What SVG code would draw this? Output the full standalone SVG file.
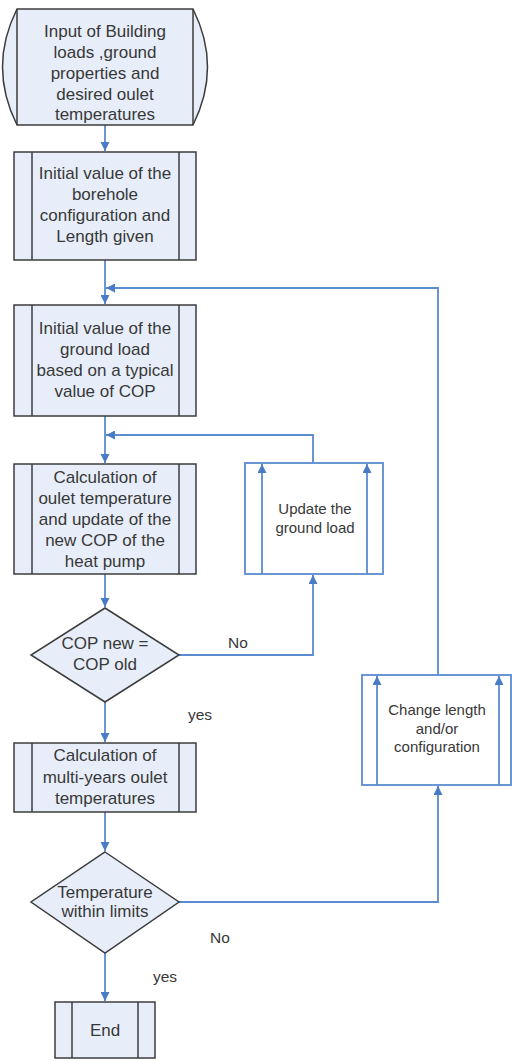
<svg xmlns="http://www.w3.org/2000/svg" width="512" height="1061" viewBox="0 0 512 1061">
<defs>
<style>
.node{fill:#e7eef9;stroke:#3c3c3c;stroke-width:1.5}
.sub{fill:none;stroke:#3c3c3c;stroke-width:1.5}
.box{fill:#ffffff;stroke:#5b8bd0;stroke-width:1.8}
.con{fill:none;stroke:#5b8bd0;stroke-width:1.8}
text{font-family:"Liberation Sans",Arial,sans-serif;font-size:17px;fill:#383838;text-anchor:middle}
.sm{font-size:15px}
.lbl{font-size:15.5px;text-anchor:start}
</style>
<marker id="ah" viewBox="0 0 10 10" refX="10" refY="5" markerWidth="9" markerHeight="9" markerUnits="userSpaceOnUse" orient="auto">
<path d="M0,0 L10,5 L0,10 Z" fill="#4a7cc6"/>
</marker>
</defs>
<g id="connectors">
<line class="con" x1="105" y1="125" x2="105" y2="151" marker-end="url(#ah)"/>
<line class="con" x1="105" y1="260" x2="105" y2="304" marker-end="url(#ah)"/>
<line class="con" x1="105" y1="416" x2="105" y2="463" marker-end="url(#ah)"/>
<line class="con" x1="105" y1="574" x2="105" y2="607" marker-end="url(#ah)"/>
<line class="con" x1="105" y1="702" x2="105" y2="742" marker-end="url(#ah)"/>
<line class="con" x1="105" y1="812" x2="105" y2="851" marker-end="url(#ah)"/>
<line class="con" x1="105" y1="953" x2="105" y2="1001" marker-end="url(#ah)"/>
<polyline class="con" points="179,655 313,655 313,575" marker-end="url(#ah)"/>
<polyline class="con" points="313,463 313,435 106,435" marker-end="url(#ah)"/>
<polyline class="con" points="179,902 438,902 438,786" marker-end="url(#ah)"/>
<polyline class="con" points="438,675 438,288 106,288" marker-end="url(#ah)"/>
</g>
<g id="n1">
<path class="node" d="M17,9 L193,9 Q222,67 193,125 L17,125 Q-12,67 17,9 Z"/>
<line class="sub" x1="17" y1="9" x2="17" y2="125"/>
<line class="sub" x1="193" y1="9" x2="193" y2="125"/>
<text x="105" y="37">Input of Building</text>
<text x="105" y="58">loads ,ground</text>
<text x="105" y="79">properties and</text>
<text x="105" y="100">desired oulet</text>
<text x="105" y="120">temperatures</text>
</g>
<g id="n2">
<rect class="node" x="14" y="152" width="182" height="108"/>
<line class="sub" x1="32" y1="152" x2="32" y2="260"/>
<line class="sub" x1="179" y1="152" x2="179" y2="260"/>
<text x="105" y="179">Initial value of the</text>
<text x="105" y="200">borehole</text>
<text x="105" y="221">configuration and</text>
<text x="105" y="242">Length given</text>
</g>
<g id="n3">
<rect class="node" x="14" y="305" width="182" height="111"/>
<line class="sub" x1="32" y1="305" x2="32" y2="416"/>
<line class="sub" x1="179" y1="305" x2="179" y2="416"/>
<text x="105" y="334">Initial value of the</text>
<text x="105" y="355">ground load</text>
<text x="105" y="376">based on a typical</text>
<text x="105" y="397">value of COP</text>
</g>
<g id="n4">
<rect class="node" x="14" y="464" width="182" height="110"/>
<line class="sub" x1="32" y1="464" x2="32" y2="574"/>
<line class="sub" x1="179" y1="464" x2="179" y2="574"/>
<text x="105" y="483">Calculation of</text>
<text x="105" y="504">oulet temperature</text>
<text x="105" y="525">and update of the</text>
<text x="105" y="546">new COP of the</text>
<text x="105" y="567">heat pump</text>
</g>
<g id="n5">
<polygon class="node" points="105,608 179,655 105,702 31,655"/>
<text x="105" y="649">COP new =</text>
<text x="105" y="670">COP old</text>
</g>
<g id="n6">
<rect class="node" x="14" y="743" width="182" height="69"/>
<line class="sub" x1="32" y1="743" x2="32" y2="812"/>
<line class="sub" x1="179" y1="743" x2="179" y2="812"/>
<text x="105" y="761">Calculation of</text>
<text x="105" y="783">multi-years oulet</text>
<text x="105" y="804">temperatures</text>
</g>
<g id="n7">
<polygon class="node" points="105,852 179,902 105,953 31,902"/>
<text x="105" y="898">Temperature</text>
<text x="105" y="917">within limits</text>
</g>
<g id="n8">
<rect class="node" x="55" y="1002" width="100" height="56"/>
<line class="sub" x1="72" y1="1002" x2="72" y2="1058"/>
<line class="sub" x1="138" y1="1002" x2="138" y2="1058"/>
<text x="105" y="1036">End</text>
</g>
<g id="n9">
<rect class="box" x="245" y="463" width="138" height="111"/>
<line class="con" x1="262" y1="574" x2="262" y2="464" marker-end="url(#ah)"/>
<line class="con" x1="367" y1="574" x2="367" y2="464" marker-end="url(#ah)"/>
<text class="sm" x="315" y="514">Update the</text>
<text class="sm" x="315" y="533">ground load</text>
</g>
<g id="n10">
<rect class="box" x="362" y="675" width="149" height="110"/>
<line class="con" x1="377" y1="785" x2="377" y2="676" marker-end="url(#ah)"/>
<line class="con" x1="499" y1="785" x2="499" y2="676" marker-end="url(#ah)"/>
<text class="sm" x="437" y="715">Change length</text>
<text class="sm" x="437" y="734">and/or</text>
<text class="sm" x="437" y="752">configuration</text>
</g>
<g id="labels">
<text class="lbl" x="228" y="648">No</text>
<text class="lbl" x="188" y="720">yes</text>
<text class="lbl" x="210" y="943">No</text>
<text class="lbl" x="153" y="982">yes</text>
</g>
</svg>
